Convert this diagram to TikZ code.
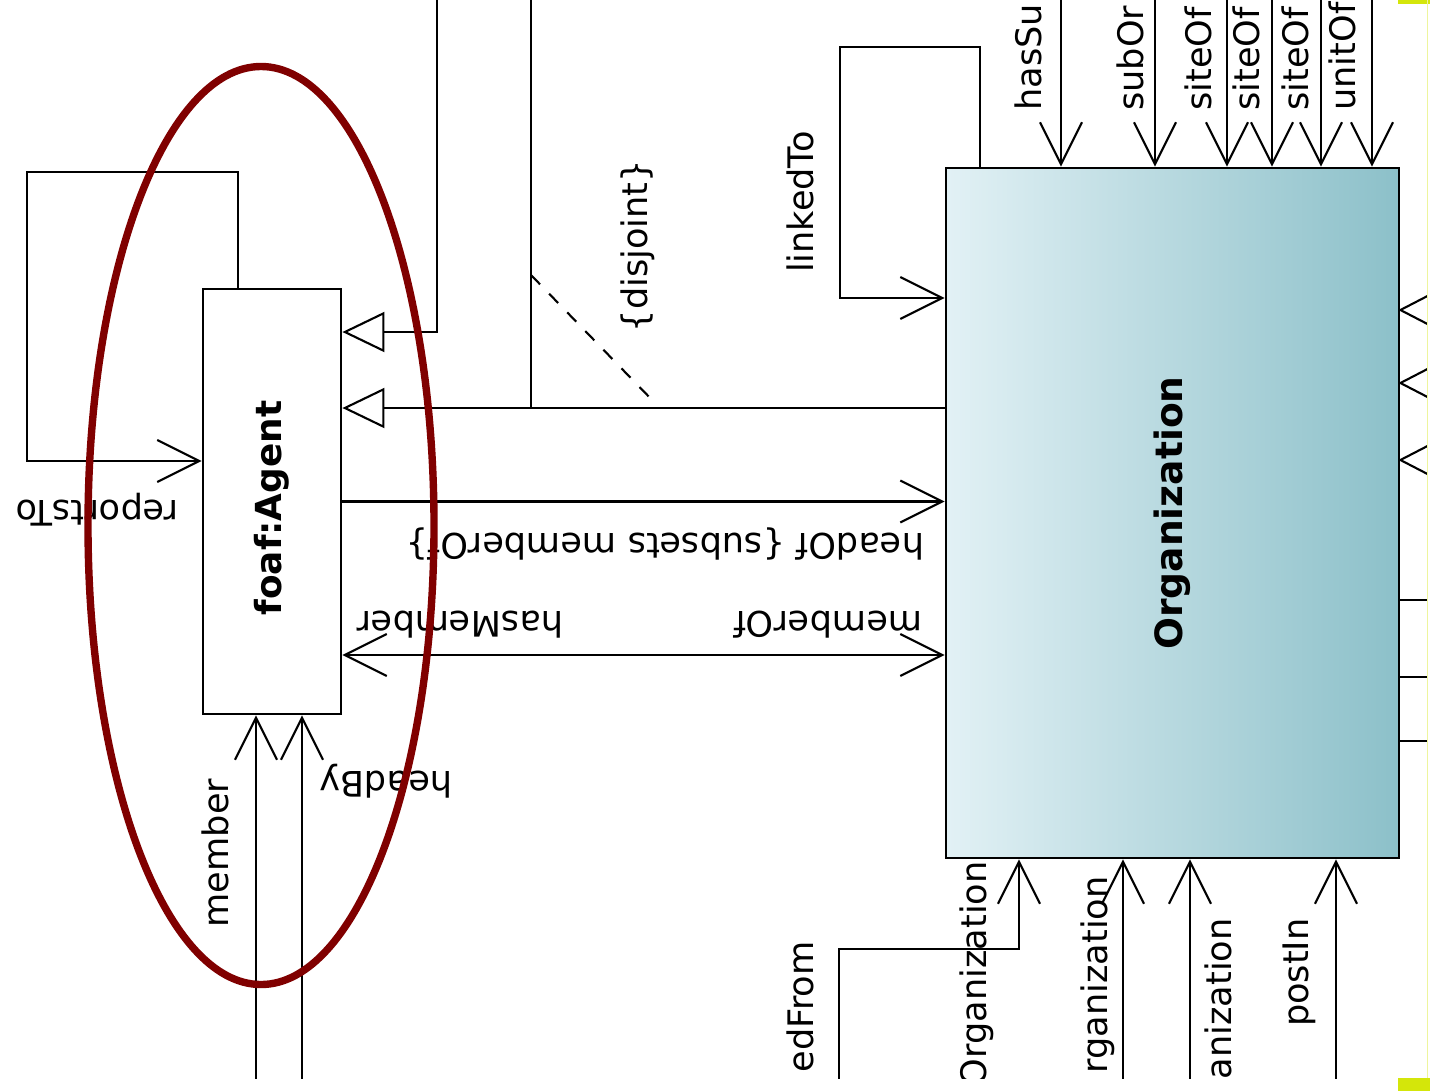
\documentclass[tikz,border=0pt]{standalone}
\usepackage{fontspec}
\setmainfont{DejaVu Sans}
\usetikzlibrary{positioning,arrows.meta}
\definecolor{orgleft}{RGB}{226,241,245}
\definecolor{orgright}{RGB}{140,192,201}
\definecolor{ringred}{RGB}{128,0,0}
\definecolor{marker}{RGB}{212,230,10}
\begin{document}
\begin{tikzpicture}[line width=0.8pt,
  box/.style={draw,inner sep=0pt},
  lbl/.style={inner sep=0pt,font=\fontsize{10}{12}\selectfont},
  assoc/.style={-{Straight Barb[length=4.2mm,width=4.2mm,line width=0.6pt]}},
  both/.style={{Straight Barb[length=4.2mm,width=4.2mm,line width=0.6pt]}-{Straight Barb[length=4.2mm,width=4.2mm,line width=0.6pt]}},
  gen/.style={-{Triangle[open,length=4.2mm,width=4mm,line width=0.6pt]}}]
\useasboundingbox(0,0) rectangle (14.30,-10.91);
\begin{scope}
\clip(0,0) rectangle (14.27,-10.78);
\node[box,fill=white,minimum width=1.38cm,minimum height=4.25cm](AGENT) at (2.72,-5.015){\rotatebox{90}{\fontsize{10.2}{12}\selectfont\bfseries foaf:Agent\hspace*{1.3mm}}};
\node[box,left color=orgleft,right color=orgright,minimum width=4.53cm,minimum height=6.90cm](ORG) at (11.725,-5.13){\rotatebox{90}{\fontsize{10.7}{12}\selectfont\bfseries Organization}};
\coordinate(RTLOOP) at (0.27,-1.72);
\coordinate(SUPA) at (4.37,0.2);
\coordinate(SUPB) at (5.31,0.2);
\coordinate(GJOIN) at (5.31,-4.08);
\coordinate(DJA) at (5.31,-2.75);
\coordinate(DJB) at (6.55,-4.03);
\coordinate(MEMY) at (0,-6.55);
\coordinate(MEMSRC) at (2.56,-11);
\coordinate(HEADSRC) at (3.02,-11);
\coordinate(LTLOOP) at (8.40,-0.47);
\coordinate(RFSRC) at (8.39,-11);
\coordinate(RFBEND) at (8.39,-9.49);
\draw[assoc]([xshift=-3.4mm]AGENT.north)|-(RTLOOP)|-([yshift=4.05mm]AGENT.west);
\draw[gen](SUPA)|-([yshift=16.95mm]AGENT.east);
\draw[gen](ORG.west|-GJOIN)--(AGENT.east|-GJOIN);
\draw(SUPB)--(GJOIN);
\draw[line width=0.6pt,dash pattern=on 1.3mm off 1.3mm](DJA)--(DJB);
\draw[assoc](AGENT.east)--(AGENT.east-|ORG.west);
\draw[both](AGENT.east|-MEMY)--(ORG.west|-MEMY);
\draw[assoc](MEMSRC)--(MEMSRC|-AGENT.south);
\draw[assoc](HEADSRC)--(HEADSRC|-AGENT.south);
\draw[assoc]([xshift=-19.25mm]ORG.north)|-(LTLOOP)|-([yshift=21.5mm]ORG.west);
\foreach \x/\lx/\name [count=\i] in {10.61/10.28/hasSu,11.55/11.30/subOr,12.27/11.98/siteOf,12.72/12.46/siteOf,13.21/12.95/siteOf,13.72/13.42/unitOf}{
  \coordinate(TOP\i) at (\x,0.2);
  \draw[assoc](TOP\i)--(TOP\i|-ORG.north);
  \node[lbl,rotate=90,anchor=west](TOPL\i) at (\lx,-1.12){\name};
}
\foreach \y in {-3.10,-3.83,-4.60}
  \draw[line width=0.6pt](14.41,\y+0.21)--(ORG.east|-0,\y)--(14.41,\y-0.21);
\foreach \y in {-6.00,-6.77,-7.41}
  \draw(ORG.east|-0,\y)--(14.5,\y);
\draw[assoc](RFSRC)--(RFBEND)-|([xshift=-15.35mm]ORG.south);
\foreach \x [count=\i] in {11.23,11.90,13.36}{
  \coordinate(BOT\i) at (\x,-11);
  \draw[assoc](BOT\i)--(BOT\i|-ORG.south);
}
\node[lbl,rotate=180](REPTO) at ([xshift=-17.5mm,yshift=-0.85mm]AGENT.center){reportsTo};
\node[lbl,rotate=180](HEADOF) at (6.65,-5.44){headOf \{subsets memberOf\}};
\node[lbl,rotate=180](HASMEM) at (4.60,-6.25){hasMember};
\node[lbl,rotate=180](MEMOF) at ([xshift=36.8mm]HASMEM.center){memberOf};
\node[lbl,rotate=90](MEMBER) at ([xshift=-5.7mm,yshift=-35.15mm]AGENT.center){member};
\node[lbl,rotate=180](HEADBY) at ([xshift=17.1mm,yshift=7.2mm]MEMBER.center){headBy};
\node[lbl,rotate=90](DISJ) at (6.38,-2.46){\{disjoint\}};
\node[lbl,rotate=90](LINKED) at (8.00,-2.02){linkedTo};
\node[lbl,rotate=90,anchor=east](RESFROM) at (8.00,-9.40){edFrom};
\node[lbl,rotate=90,anchor=east](ORGA) at (9.77,-8.60){Organization};
\node[lbl,rotate=90,anchor=east](ORGB) at (10.98,-8.75){rganization};
\node[lbl,rotate=90,anchor=east](ORGC) at (12.18,-9.17){anization};
\node[lbl,rotate=90,anchor=east](POSTIN) at (12.99,-9.17){postIn};
\draw[ringred,line width=2.1pt](2.61,-5.255) ellipse (1.73 and 4.59);
\end{scope}
\fill[marker](13.98,0) rectangle (14.30,-0.04);
\fill[marker](13.98,-10.78) rectangle (14.30,-10.91);
\draw[marker!40,line width=0.4pt](14.275,0)--(14.275,-10.78);
\end{tikzpicture}
\end{document}
